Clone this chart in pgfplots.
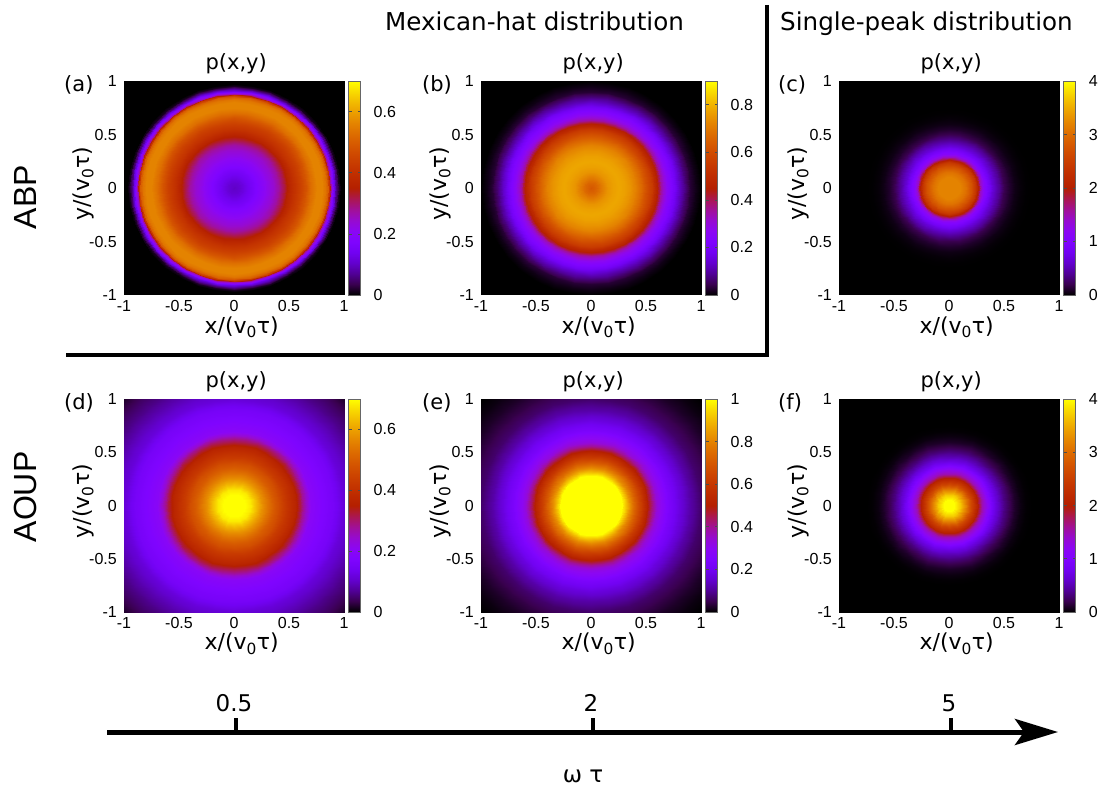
\documentclass[border=0pt]{standalone}
\usepackage{fontspec}
\setmainfont{DejaVu Sans}
\newfontfamily\tickfont{Liberation Sans}
\usepackage{pgfplots}
\usepackage{pgfplotstable}
\usepgfplotslibrary{colormaps}
\usetikzlibrary{arrows.meta}
\pgfplotsset{compat=1.18}

% gnuplot's default pm3d palette (rgbformulae 7,5,15)
\pgfplotsset{colormap={gp}{
  rgb=(0,0,0) rgb=(.224,.0001,.309) rgb=(.316,.001,.588) rgb=(.387,.003,.809)
  rgb=(.447,.008,.951) rgb=(.5,.016,1) rgb=(.548,.027,.951) rgb=(.592,.043,.809)
  rgb=(.632,.064,.588) rgb=(.671,.091,.309) rgb=(.707,.125,0) rgb=(.742,.166,0)
  rgb=(.775,.216,0) rgb=(.806,.275,0) rgb=(.837,.343,0) rgb=(.866,.422,0)
  rgb=(.894,.512,0) rgb=(.922,.614,0) rgb=(.949,.729,0) rgb=(.975,.857,0) rgb=(1,1,0)
}}

\pgfplotsset{
  panel/.style={
    at={(#1)}, anchor=south west, scale only axis,
    width=220pt, view={0}{90},
    xmin=-1, xmax=1, ymin=-1, ymax=1, enlargelimits=false,
    xtick={-1,-0.5,0,0.5,1}, ytick={-1,-0.5,0,0.5,1},
    major tick length=0pt, axis line style={draw=none}, axis on top,
    tick label style={font=\tickfont\fontsize{16}{16}\selectfont, inner sep=0pt,
      /pgf/number format/assume math mode=true},
    xticklabel style={yshift=-5pt},
    yticklabel style={xshift=-7pt},
    title={p(x,y)},
    title style={at={(axis description cs:0.51,1)}, anchor=base, yshift=5pt, font=\fontsize{21}{21}\selectfont},
    xlabel={x/(v\textsubscript{0}τ)},
    ylabel={y/(v\textsubscript{0}τ)},
    xlabel style={at={(axis description cs:0.535,-0.178)}, anchor=base, font=\fontsize{22}{22}\selectfont},
    ylabel style={at={(axis description cs:-0.159,0.52)}, anchor=base, font=\fontsize{22}{22}\selectfont},
    colormap name=gp, colorbar,
    colorbar style={
      at={(parent axis.north east)}, anchor=north west, xshift=-4pt, width=12pt,
      ytick pos=both, yticklabel pos=right, tick align=inside,
      major tick length=3pt, axis line style={draw=black!60, line width=0.8pt},
      ytick style={draw=black!70, line width=0.6pt},
      yticklabel style={xshift=13pt, inner sep=0pt, font=\tickfont\fontsize{16}{16}\selectfont,
        /pgf/number format/assume math mode=true},
    },
  },
}
% each table is a radial profile, every radius listed twice:
% the two lines are the two edges of one 10 degree wedge of the surface
\newcommand\wedges[1]{
  \pgfplotsinvokeforeach{0,10,...,350}{
    \addplot3[surf, shader=interp, mesh/cols=2] table[
      x expr={\thisrow{r}*cos(##1+10*mod(\coordindex,2))},
      y expr={\thisrow{r}*sin(##1+10*mod(\coordindex,2))},
      z=p] {#1};
  }
}

\pgfplotstableread{
r p
0 .10
0 .10
.05 .11
.05 .11
.1 .13
.1 .13
.15 .15
.15 .15
.2 .175
.2 .175
.25 .195
.25 .195
.3 .22
.3 .22
.35 .24
.35 .24
.4 .27
.4 .27
.45 .32
.45 .32
.5 .37
.5 .37
.55 .41
.55 .41
.6 .44
.6 .44
.65 .48
.65 .48
.7 .53
.7 .53
.75 .56
.75 .56
.8 .56
.8 .56
.83 .54
.83 .54
.85 .50
.85 .50
.865 .42
.865 .42
.88 .27
.88 .27
.91 .13
.91 .13
.93 .06
.93 .06
.95 .015
.95 .015
.97 0
.97 0
1.5 0
1.5 0
}\taba

\pgfplotstableread{
r p
0 .63
0 .63
.05 .66
.05 .66
.1 .71
.1 .71
.15 .75
.15 .75
.2 .77
.2 .77
.25 .78
.25 .78
.3 .77
.3 .77
.35 .75
.35 .75
.4 .72
.4 .72
.45 .67
.45 .67
.5 .61
.5 .61
.55 .55
.55 .55
.58 .49
.58 .49
.6 .46
.6 .46
.62 .41
.62 .41
.64 .35
.64 .35
.67 .29
.67 .29
.7 .25
.7 .25
.75 .20
.75 .20
.8 .13
.8 .13
.85 .075
.85 .075
.9 .03
.9 .03
.95 .012
.95 .012
1 0
1 0
1.5 0
1.5 0
}\tabb

\pgfplotstableread{
r p
0 3.2
0 3.2
.1 3.2
.1 3.2
.15 3.05
.15 3.05
.2 2.75
.2 2.75
.24 2.4
.24 2.4
.27 1.9
.27 1.9
.29 1.45
.29 1.45
.32 1.1
.32 1.1
.36 .85
.36 .85
.4 .62
.4 .62
.45 .4
.45 .4
.5 .2
.5 .2
.55 .11
.55 .11
.6 .05
.6 .05
.65 .02
.65 .02
.7 .005
.7 .005
.75 0
.75 0
1.5 0
1.5 0
}\tabc

\pgfplotstableread{
r p
0 .76
0 .76
.1 .73
.1 .73
.15 .68
.15 .68
.2 .63
.2 .63
.25 .58
.25 .58
.3 .54
.3 .54
.35 .50
.35 .50
.4 .47
.4 .47
.45 .43
.45 .43
.5 .40
.5 .40
.55 .37
.55 .37
.6 .32
.6 .32
.63 .28
.63 .28
.66 .24
.66 .24
.7 .2
.7 .2
.8 .175
.8 .175
.9 .155
.9 .155
1 .115
1 .115
1.1 .09
1.1 .09
1.2 .065
1.2 .065
1.3 .045
1.3 .045
1.41 .02
1.41 .02
1.5 0
1.5 0
}\tabd

\pgfplotstableread{
r p
0 1.2
0 1.2
.25 1.1
.25 1.1
.28 1.0
.28 1.0
.3 .95
.3 .95
.35 .82
.35 .82
.4 .72
.4 .72
.45 .62
.45 .62
.5 .53
.5 .53
.53 .47
.53 .47
.56 .40
.56 .40
.6 .33
.6 .33
.65 .285
.65 .285
.7 .24
.7 .24
.8 .175
.8 .175
.9 .115
.9 .115
1 .07
1 .07
1.1 .045
1.1 .045
1.2 .025
1.2 .025
1.3 .01
1.3 .01
1.41 0
1.41 0
1.5 0
1.5 0
}\tabe

\pgfplotstableread{
r p
0 4.3
0 4.3
.05 4.1
.05 4.1
.1 3.7
.1 3.7
.15 3.2
.15 3.2
.2 2.6
.2 2.6
.25 2.1
.25 2.1
.3 1.5
.3 1.5
.35 1.15
.35 1.15
.4 .8
.4 .8
.45 .55
.45 .55
.5 .35
.5 .35
.55 .2
.55 .2
.6 .1
.6 .1
.65 .04
.65 .04
.7 .01
.7 .01
.75 0
.75 0
1.5 0
1.5 0
}\tabf

\begin{document}
\begin{tikzpicture}
\path[use as bounding box] (0pt,0pt) rectangle (1100pt,785pt);

\begin{axis}[panel={124pt,490pt}, height=214pt, point meta min=0, point meta max=0.7,
    colorbar style={ytick={0,0.2,0.4,0.6}}]
\wedges{\taba}
\end{axis}
\begin{axis}[panel={481pt,490pt}, height=214pt, point meta min=0, point meta max=0.9,
    colorbar style={ytick={0,0.2,0.4,0.6,0.8}}]
\wedges{\tabb}
\end{axis}
\begin{axis}[panel={839pt,490pt}, height=214pt, point meta min=0, point meta max=4,
    colorbar style={ytick={0,1,2,3,4}}]
\wedges{\tabc}
\end{axis}
\begin{axis}[panel={124pt,173pt}, height=213pt, point meta min=0, point meta max=0.7,
    colorbar style={ytick={0,0.2,0.4,0.6}}]
\wedges{\tabd}
\end{axis}
\begin{axis}[panel={481pt,173pt}, height=213pt, point meta min=0, point meta max=1,
    colorbar style={ytick={0,0.2,0.4,0.6,0.8,1}}]
\wedges{\tabe}
\end{axis}
\begin{axis}[panel={839pt,173pt}, height=213pt, point meta min=0, point meta max=4,
    colorbar style={ytick={0,1,2,3,4}}]
\wedges{\tabf}
\end{axis}

% headers, frame lines, row names and the omega tau arrow
\node[anchor=base west, font=\fontsize{24.6}{24.6}\selectfont, inner sep=0pt] at (385pt,754pt) {Mexican-hat distribution};
\node[anchor=base west, font=\fontsize{24.6}{24.6}\selectfont, inner sep=0pt] at (780pt,754pt) {Single-peak distribution};
\draw[line width=4pt] (767pt,780pt) -- (767pt,430pt);
\draw[line width=4pt] (66pt,430pt) -- (769pt,430pt);
\node[rotate=90, anchor=base, font=\tickfont\fontsize{32}{32}\selectfont, inner sep=0pt] at (36pt,588pt) {ABP};
\node[rotate=90, anchor=base, font=\tickfont\fontsize{32}{32}\selectfont, inner sep=0pt] at (36pt,288pt) {AOUP};
\foreach \lab/\xx/\yy in {(a)/64/693,(b)/422/693,(c)/778/693,(d)/64/375,(e)/422/375,(f)/778/375}
  \node[anchor=base west, font=\fontsize{21}{21}\selectfont, inner sep=0pt] at (\xx pt,\yy pt) {\lab};
\draw[line width=5pt, -{Stealth[length=43pt,width=26pt,inset=9pt]}] (107pt,53pt) -- (1058pt,53pt);
\foreach \xx/\lab in {236/0.5,593/2,951/5} {
  \draw[line width=4pt] (\xx pt,53pt) -- (\xx pt,67pt);
  \node[anchor=base, font=\fontsize{23}{23}\selectfont, inner sep=0pt] at (\xx pt-2pt,74pt) {\lab};
}
\node[anchor=base, font=\fontsize{23}{23}\selectfont, inner sep=0pt] at (583pt,3pt) {ω τ};
\end{tikzpicture}
\end{document}
